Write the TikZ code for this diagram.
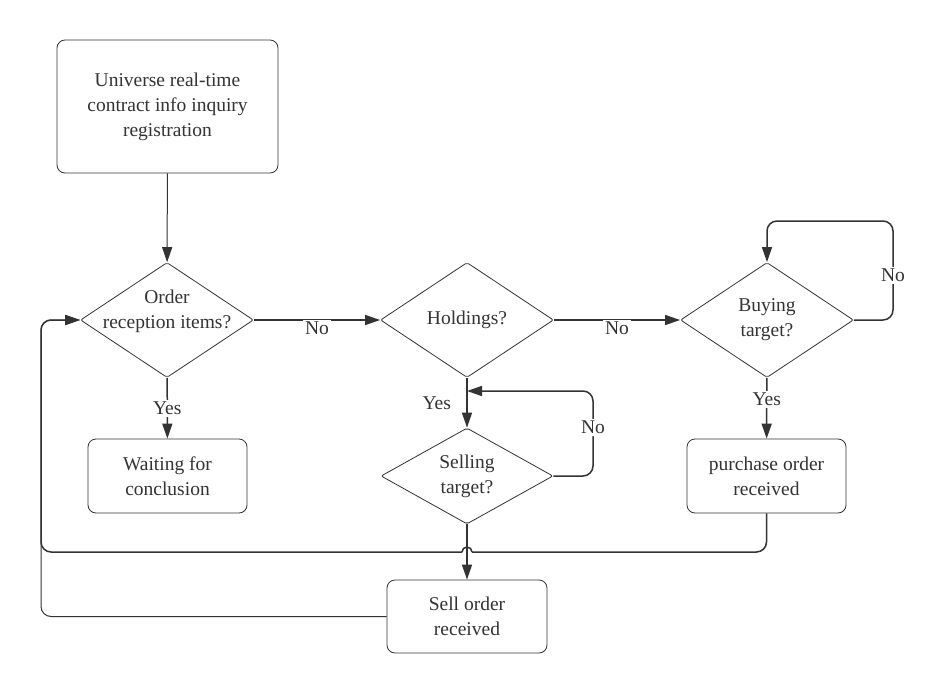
\documentclass[tikz,border=0pt]{standalone}
\usepackage{fontspec}
\setmainfont{Liberation Serif}
\usepackage{tikz}
\usetikzlibrary{shapes.geometric, arrows.meta}
\definecolor{flowgray}{HTML}{333333}

\begin{document}
\begin{tikzpicture}[x=1pt, y=1pt,
    every node/.style={font=\fontsize{19.5}{25}\selectfont, text=flowgray},
    stepbox/.style={draw=flowgray, line width=0.8pt, rounded corners=8pt, align=center, inner sep=0pt},
    query/.style={diamond, draw=flowgray, line width=0.8pt, rounded corners=2pt, inner sep=0pt, minimum width=173pt, minimum height=115pt},
    wire/.style={draw=flowgray, line width=1.5pt},
    link/.style={wire, -{Triangle[length=15pt, width=10pt]}},
    answer/.style={fill=white, inner sep=2pt}]
            \useasboundingbox (0,0) rectangle (945,-693);

            \node[stepbox, minimum width=221pt, minimum height=133pt] (universe) at (167.5,-106.5) {Universe real-time\\contract info inquiry\\registration}; % start
            \node[query, label={[align=center, yshift=9pt]center:Order\\reception items?}] (order) at (167,-320) {}; % order
            \node[query, label={center:Holdings?}] (holdings) at (467,-320) {}; % holdings
            \node[query, label={[align=center]center:Buying\\target?}] (buying) at (767,-320) {}; % buying
            \node[query, minimum width=172pt, minimum height=96pt, label={[align=center]center:Selling\\target?}] (selling) at (467,-476) {}; % selling
            \node[stepbox, minimum width=159pt, minimum height=74pt] (waiting) at (167.5,-476) {Waiting for\\conclusion}; % waiting
            \node[stepbox, minimum width=159pt, minimum height=74pt] (purchase) at (766.5,-476) {purchase order\\received}; % purchase
            \node[stepbox, minimum width=160pt, minimum height=73pt] (sellorder) at (467,-616.5) {Sell order\\received}; % sell
            \coordinate (rejoin) at (467,-391);
            \coordinate (hopright) at (472,-552);
            \coordinate (hopleft) at (462,-552);

            \draw[link, line width=1pt] (universe) -- (order);
            \draw[link] (order) -- node[answer, yshift=-8pt] {No} (holdings);
            \draw[link] (holdings) -- node[answer, yshift=-8pt] {No} (buying);
            \draw[link, rounded corners=10pt] (buying.east) -- (893,-320) -- node[answer, pos=0.45] {No} (893,-221) -- (767,-221) -- (buying.north); % buying loop
            \draw[link] (order) -- node[answer] {Yes} (waiting);
            \draw[link] (buying) -- node[answer, pos=0.35] {Yes} (purchase);
            \draw[link] (holdings) -- node[left=12pt, pos=0.5] {Yes} (selling);
            \draw[link, rounded corners=10pt] (selling.east) -- (593,-476) -- node[answer, pos=0.57] {No} (593,-391) -- (rejoin); % selling loop
            \draw[link] (selling) -- (sellorder);
            \draw[wire, rounded corners=10pt] (purchase.south) |- (hopright); % back from purchase
            \draw[wire] (hopright) arc[start angle=0, end angle=180, radius=5pt]; % hop
            \draw[link, rounded corners=10pt] (hopleft) -- (41,-552) -- (41,-320) -- (order.west);
            \draw[link, line width=1pt, rounded corners=10pt] (sellorder.west) -- (41,-616.5) -- (41,-320) -- (order.west); % back from sell

        \end{tikzpicture}
\end{document}
